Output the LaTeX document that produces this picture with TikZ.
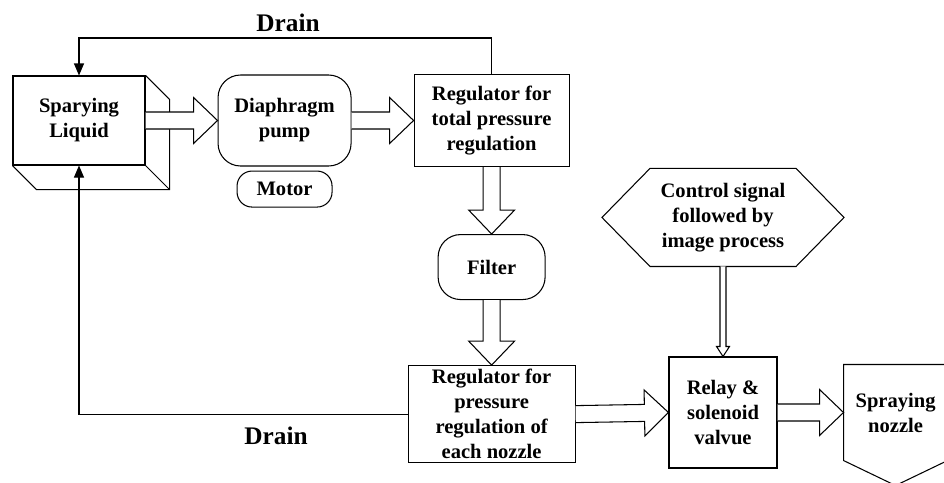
\documentclass[tikz,border=0pt]{standalone}
\usepackage{fontspec}
\setmainfont{Liberation Serif}
\usetikzlibrary{positioning,calc}
\usetikzlibrary{arrows.meta}

\tikzset{
  block/.style={draw, align=center, inner sep=2pt,
    font=\fontsize{11.7pt}{14.2pt}\selectfont\bfseries},
  rblock/.style={block, rounded corners=.45cm},
  plainblock/.style={align=center, inner sep=2pt,
    font=\fontsize{11.7pt}{14.2pt}\selectfont\bfseries},
  draintext/.style={font=\fontsize{14.4pt}{17pt}\selectfont\bfseries},
  drainline/.style={-{Triangle[length=.24cm,width=.2cm]}},
  pipeline/.style={fill=white, line join=miter}
}

% hollow flow arrow: #1 from, #2 to, #3 half shaft, #4 half head, #5 head length
\newcommand{\flow}[5]{%
  \draw[pipeline] ($(#1)!#3!90:(#2)$)
    -- ($($(#2)!#5!(#1)$)!#3!-90:(#1)$)
    -- ($($(#2)!#5!(#1)$)!#4!-90:(#1)$)
    -- (#2)
    -- ($($(#2)!#5!(#1)$)!#4!90:(#1)$)
    -- ($($(#2)!#5!(#1)$)!#3!90:(#1)$)
    -- ($(#1)!#3!-90:(#2)$);}
\newcommand{\pipe}[2]{\flow{#1}{#2}{.17cm}{.46cm}{.48cm}}
\newcommand{\signal}[2]{\flow{#1}{#2}{.06cm}{.13cm}{.2cm}}

\begin{document}
\begin{tikzpicture}[line width=.6pt]
      \useasboundingbox (0,0) rectangle (18.88,-9.64);

      \node[block, minimum width=2.64cm, minimum height=1.78cm] (liquid) at (1.58,-2.41) {Sparying\\Liquid};
      \draw (liquid.north east) -- ++(.48,-.48) -- ($(liquid.south east)+(.48,-.48)$)
         -- ($(liquid.south west)+(.48,-.48)$) -- (liquid.south west);
      \draw (liquid.south east) -- ++(.48,-.48);

      \node[rblock, minimum width=2.66cm, minimum height=1.82cm, right=1.44cm of liquid] (pump) {Diaphragm\\pump};
      \node[block, rounded corners=.3cm, minimum width=1.9cm, minimum height=.72cm, below=.08cm of pump] (motor) {Motor};
      \node[block, minimum width=3.1cm, minimum height=1.84cm, right=1.24cm of pump] (reg1) {Regulator for\\total pressure\\regulation};
      \node[rblock, minimum width=2.14cm, minimum height=1.3cm, below=1.34cm of reg1] (filter) {Filter};
      \node[block, minimum width=3.34cm, minimum height=1.94cm, below=1.3cm of filter] (reg2) {Regulator for\\pressure\\regulation of\\each nozzle};

      \node[block, minimum width=2.16cm, minimum height=2.22cm] (relay) at (14.46,-8.25) {Relay \&\\solenoid\\valvue};
      \node[plainblock, minimum width=2.9cm, minimum height=1.94cm, above=1.8cm of relay] (ctrl) {Control signal\\followed by\\image process};
      \draw (ctrl.north west) -- (ctrl.north east) -- ($(ctrl.east)+(.96,0)$)
         -- (ctrl.south east) -- (ctrl.south west) -- ($(ctrl.west)+(-.96,0)$) -- cycle;
      \node[plainblock, minimum width=2.06cm, minimum height=1.9cm, right=1.32cm of relay] (nozzle) {Spraying\\nozzle};
      \draw (nozzle.south west) -- (nozzle.north west) -- (nozzle.north east)
         -- (nozzle.south east) -- ($(nozzle.south)+(0,-.5)$) -- cycle;

      \pipe{liquid.east}{pump.west}
      \pipe{pump.east}{reg1.west}
      \pipe{reg1.south}{filter.north}
      \pipe{filter.south}{reg2.north}
      \pipe{reg2.east}{relay.west}
      \pipe{relay.east}{nozzle.west}
      \signal{ctrl.south}{relay.north}

      \draw[drainline] (reg1.north) -- ++(0,.72) -| (liquid.north);
      \draw[drainline] (reg2.west) -| (liquid.south);
      \node[draintext] (draintop) at (5.76,-.46) {Drain};
      \node[draintext] (drainbot) at (5.52,-8.72) {Drain};
\end{tikzpicture}
\end{document}
